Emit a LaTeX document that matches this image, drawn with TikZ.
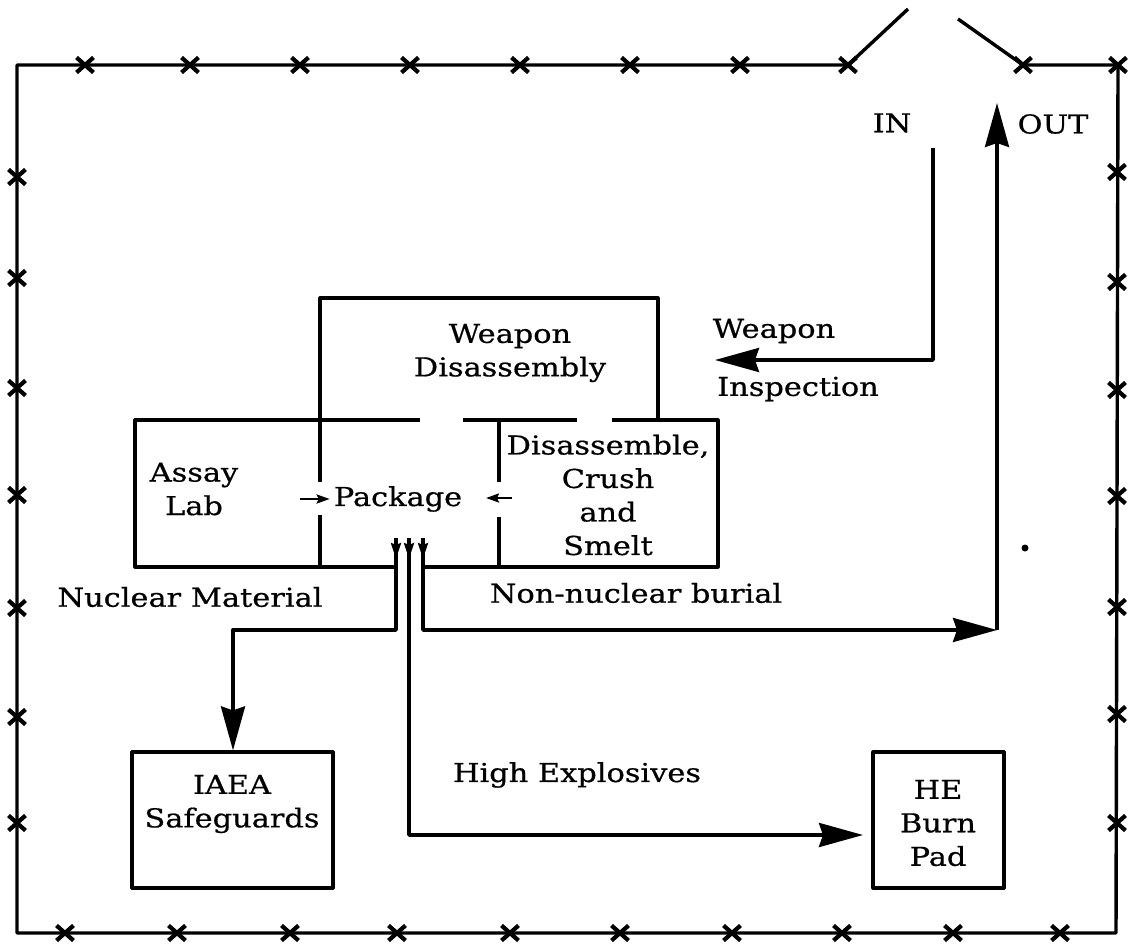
\documentclass[tikz,border=0pt]{standalone}
\usepackage{fontspec}
\setmainfont{DejaVu Serif}[FakeStretch=1.17,FakeBold=0.6]
\usetikzlibrary{arrows.meta}
\begin{document}
\begin{tikzpicture}[x=1pt,y=-1pt,line join=round,
  wall/.style={line width=3.4pt},
  boxline/.style={line width=3.2pt},
  flow/.style={line width=3.4pt},
  bigtip/.style={-{Stealth[length=44pt,width=24pt,inset=4pt]}},
  smalltip/.style={-{Stealth[length=13pt,width=9pt,inset=2pt]}},
  downtip/.style={-{Stealth[length=16pt,width=10pt,inset=2pt]}},
  xmark/.style={line width=4.2pt},
  lbl/.style={font=\fontsize{26}{33.5}\selectfont,align=center,inner sep=0pt},
  boxnode/.style={draw,line width=3.2pt,inner sep=0pt},
]
\useasboundingbox (0,0) rectangle (1134,947);

% ---------- fence ----------
\coordinate (ftl) at (17,65);
\coordinate (ftr) at (1118,65);
\coordinate (fbr) at (1116,933);
\coordinate (fbl) at (17,933);
\coordinate (gl) at (848,65);
\coordinate (gr) at (1023,65);
\coordinate (gle) at (908,9);
\coordinate (gre) at (958,19);
\draw[wall] (gl) -- (ftl) -- (fbl) -- (fbr) -- (ftr) -- (gr);
\draw[wall] (gl) -- (gle);
\draw[wall] (gr) -- (gre);
\foreach \x/\y in {85/65,190/65,300/65,410/65,520/65,630/65,740/65,848/65,1023/65,1118/65,
  17/177,17/278,17/388,17/495,17/608,17/717,17/823,
  1117/172,1117/282,1117/390,1117/496,1117/607,1117/714,1117/823,
  65/933,177/933,290/933,397/933,510/933,620/933,732/933,842/933,953/933,1060/933}
  \draw[xmark] (\x-8.5,\y-7.5) -- (\x+8.5,\y+7.5) (\x-8.5,\y+7.5) -- (\x+8.5,\y-7.5);

% ---------- central building ----------
\draw[boxline] (320,482) -- (320,298) -- (658,298) -- (658,420);
\draw[boxline] (420,420) -- (135,420) -- (135,567) -- (396,567);
\draw[boxline] (423,567) -- (718,567) -- (718,420) -- (612,420);
\draw[boxline] (463,420) -- (577,420);
\draw[boxline] (320,515) -- (320,567);
\draw[boxline] (499,420) -- (499,482);
\draw[boxline] (499,517) -- (499,567);

\node[lbl] (wd) at (510,353) {Weapon\\Disassembly};
\node[lbl] (assay) at (194,489) {Assay\\Lab};
\node[lbl] (pkg) at (398,499) {Package};
\node[lbl] (dcs) at (608,495) {Disassemble,\\Crush\\and\\Smelt};

\coordinate (assayOut) at (300,499);
\coordinate (dcsOut) at (512,498);
\draw[line width=2.4pt,smalltip] (assayOut) -- ([xshift=-4pt]pkg.west);
\draw[line width=2.4pt,smalltip] (dcsOut) -- ([xshift=-26pt]dcsOut);

% ---------- outer boxes ----------
\node[boxnode,minimum width=201pt,minimum height=136pt] (iaea) at (232.5,820) {};
\node[lbl] (iaeal) at (232,804) {IAEA\\Safeguards};
\node[boxnode,minimum width=131pt,minimum height=136pt] (he) at (938.5,820) {};
\node[lbl] (hel) at (938,823) {HE\\Burn\\Pad};

% ---------- labels ----------
\node[lbl] (in) at (892,123) {IN};
\node[lbl] (out) at (1053,124) {OUT};
\node[lbl] (wi1) at (774,331) {Weapon};
\node[lbl] (wi2) at (798,389) {Inspection};
\node[lbl] (nm) at (190,597) {Nuclear Material};
\node[lbl] (nnb) at (636,593) {Non-nuclear burial};
\node[lbl] (hx) at (577,775) {High Explosives};

% ---------- flows ----------
\coordinate (pkgA) at (396,538);
\coordinate (pkgB) at (409,538);
\coordinate (pkgC) at (423,538);
\foreach \c in {pkgA,pkgB,pkgC}
  \draw[line width=2.6pt,downtip] (\c) -- ([yshift=-21pt]\c);

\coordinate (nucTurn) at (233,630);
\draw[flow,bigtip] (pkgA) |- (nucTurn) -- (iaea.north -| nucTurn);

\coordinate (heIn) at (863,835);
\draw[flow,bigtip] (pkgB) |- (heIn);

\coordinate (outCorner) at (997,630);
\coordinate (outTip) at (997,103);
\draw[flow,bigtip] (pkgC) |- (outCorner);
\draw[flow,bigtip] (outCorner) -- (outTip);

\coordinate (inTop) at (933,148);
\coordinate (inTurn) at (933,360);
\coordinate (inTip) at (715,360);
\draw[flow,bigtip] (inTop) -- (inTurn) -- (inTip);

\fill (1025,548) circle (3.5pt);
\end{tikzpicture}
\end{document}
